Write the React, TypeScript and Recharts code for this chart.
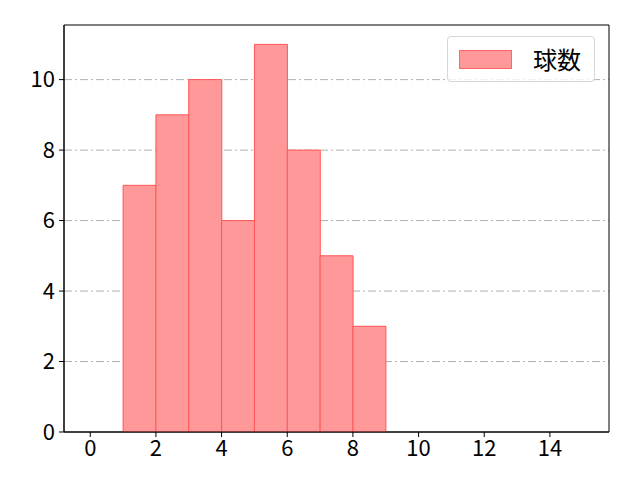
import React from "react"
import {
  BarChart, Bar, XAxis, YAxis, CartesianGrid, ReferenceArea,
} from "recharts"

// histogram bins: centre of each 1-wide bin and its count
const binCenters = [1.5, 2.5, 3.5, 4.5, 5.5, 6.5, 7.5, 8.5]
const counts = [7, 9, 10, 6, 11, 8, 5, 3]
const xTicks = [0, 2, 4, 6, 8, 10, 12, 14]
const yTicks = [0, 2, 4, 6, 8, 10]
const gridLines = [2, 4, 6, 8, 10]
const seriesName = "球数"

const data = binCenters.map((x, i) => ({ x, count: counts[i] }))

const X_DOMAIN: [number, number] = [-0.8, 15.8]
const Y_DOMAIN: [number, number] = [0, 11.55]
const FONT = "'Noto Sans CJK JP', 'Noto Sans', sans-serif"
const TICK = { fill: "#000", fontSize: 22, fontFamily: FONT, style: { fontSize: 22, fontFamily: FONT, fontWeight: 400 } }

function LegendBox() {
  return (
    <div
      style={{
        position: "absolute",
        left: 447,
        top: 36,
        display: "flex",
        alignItems: "center",
        border: "1px solid #d6d6d6",
        borderRadius: 4,
        background: "rgba(255,255,255,0.8)",
        width: 148,
        height: 46,
        boxSizing: "border-box",
        fontFamily: FONT,
        fontSize: 24,
        fontWeight: 400,
      }}
    >
      <span
        style={{
          display: "inline-block",
          width: 53,
          height: 19,
          marginLeft: 11,
          background: "#ff9999",
          border: "1px solid #ff6666",
          boxSizing: "border-box",
        }}
      />
      <span style={{ marginLeft: 21, color: "#000", lineHeight: 1 }}>{seriesName}</span>
    </div>
  )
}

export default function App() {
  return (
    <div style={{ position: "absolute", left: 0, top: 0, width: 640, height: 480, background: "#fff" }}>
      <BarChart
        width={640}
        height={480}
        data={data}
        margin={{ top: 25, right: 31, left: 0, bottom: 0 }}
        barCategoryGap={0}
        barGap={0}
      >
        <CartesianGrid
          vertical={false}
          stroke="#b0b0b0"
          strokeDasharray="8 3 2 3"
          horizontalValues={gridLines}
        />
        <XAxis
          dataKey="x"
          type="number"
          domain={X_DOMAIN}
          ticks={xTicks}
          allowDataOverflow
          height={48}
          tickSize={5}
          stroke="#000"
          tick={TICK}
          tickMargin={3}
        />
        <YAxis
          domain={Y_DOMAIN}
          ticks={yTicks}
          allowDataOverflow
          width={64}
          tickSize={5}
          stroke="#000"
          tick={TICK}
          tickMargin={4}
        />
        <Bar
          dataKey="count"
          name={seriesName}
          fill="#ff9999"
          stroke="#ff5555"
          strokeWidth={1}
          isAnimationActive={false}
        />
        <ReferenceArea
          x1={X_DOMAIN[0]}
          x2={X_DOMAIN[1]}
          y1={Y_DOMAIN[0]}
          y2={Y_DOMAIN[1]}
          fill="none"
          fillOpacity={0}
          stroke="#000"
          strokeWidth={1}
          ifOverflow="visible"
        />
      </BarChart>
      <LegendBox />
    </div>
  )
}
